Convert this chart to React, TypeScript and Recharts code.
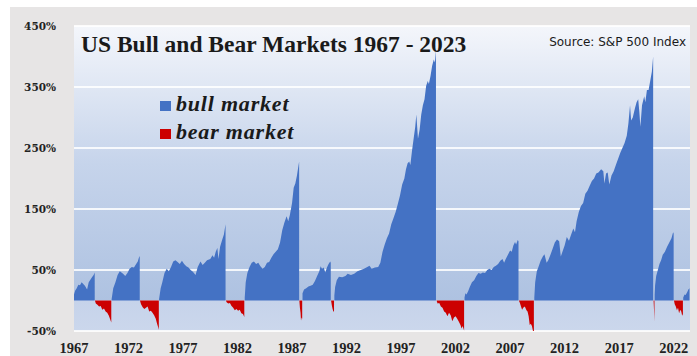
import { Area, AreaChart, CartesianGrid, XAxis, YAxis } from "recharts";

// cumulative % change of each bull run, [year, pct]
const bullRuns: [number, number][][] = [
  [[1967.0, 10], [1967.1, 16], [1967.25, 20], [1967.4, 26], [1967.55, 25], [1967.7, 30], [1967.85, 27], [1968.0, 24], [1968.2, 18], [1968.35, 30], [1968.5, 34], [1968.65, 38], [1968.8, 42], [1968.9, 46]],
  [[1970.45, 2], [1970.6, 20], [1970.8, 30], [1971.0, 42], [1971.2, 48], [1971.35, 46], [1971.5, 44], [1971.7, 40], [1971.9, 45], [1972.1, 52], [1972.3, 55], [1972.5, 54], [1972.7, 60], [1972.85, 64], [1972.95, 70], [1973.03, 73]],
  [[1974.8, 2], [1974.95, 20], [1975.1, 30], [1975.3, 45], [1975.5, 52], [1975.7, 48], [1975.9, 55], [1976.1, 64], [1976.3, 66], [1976.5, 63], [1976.7, 60], [1976.9, 65], [1977.1, 60], [1977.3, 56], [1977.5, 54], [1977.7, 50], [1977.9, 47], [1978.15, 42], [1978.35, 55], [1978.6, 64], [1978.8, 58], [1979.0, 62], [1979.2, 66], [1979.5, 68], [1979.7, 74], [1979.85, 70], [1980.0, 80], [1980.15, 86], [1980.25, 68], [1980.4, 88], [1980.6, 100], [1980.75, 108], [1980.9, 125]],
  [[1982.66, 5], [1982.75, 30], [1982.9, 45], [1983.1, 55], [1983.3, 62], [1983.5, 64], [1983.7, 60], [1983.9, 62], [1984.1, 56], [1984.3, 52], [1984.5, 55], [1984.7, 62], [1984.9, 63], [1985.1, 70], [1985.3, 76], [1985.5, 80], [1985.7, 84], [1985.9, 95], [1986.1, 115], [1986.3, 128], [1986.5, 138], [1986.65, 130], [1986.8, 140], [1987.0, 160], [1987.15, 185], [1987.3, 192], [1987.45, 205], [1987.58, 220], [1987.65, 228]],
  [[1987.96, 12], [1988.1, 18], [1988.3, 20], [1988.5, 23], [1988.7, 24], [1988.9, 26], [1989.1, 32], [1989.3, 40], [1989.5, 48], [1989.62, 56], [1989.75, 52], [1989.9, 54], [1990.05, 46], [1990.2, 54], [1990.35, 60], [1990.5, 64], [1990.55, 62]],
  [[1990.88, 8], [1990.95, 22], [1991.1, 33], [1991.3, 39], [1991.6, 38], [1991.9, 40], [1992.1, 44], [1992.4, 42], [1992.7, 44], [1993.0, 48], [1993.3, 50], [1993.6, 52], [1993.9, 55], [1994.1, 57], [1994.3, 52], [1994.6, 54], [1994.9, 55], [1995.1, 62], [1995.3, 80], [1995.5, 92], [1995.7, 102], [1995.9, 110], [1996.1, 125], [1996.3, 135], [1996.5, 145], [1996.7, 158], [1996.9, 172], [1997.1, 190], [1997.3, 200], [1997.45, 215], [1997.6, 225], [1997.75, 228], [1997.85, 222], [1998.0, 245], [1998.15, 265], [1998.3, 285], [1998.4, 305], [1998.55, 265], [1998.7, 280], [1998.85, 305], [1999.0, 320], [1999.15, 330], [1999.3, 352], [1999.45, 360], [1999.55, 355], [1999.7, 368], [1999.85, 385], [2000.0, 395], [2000.1, 390], [2000.2, 410]],
  [[2002.82, 5], [2002.9, 12], [2003.0, 10], [2003.15, 15], [2003.3, 22], [2003.5, 30], [2003.7, 33], [2003.9, 40], [2004.1, 45], [2004.3, 44], [2004.5, 46], [2004.7, 45], [2004.9, 50], [2005.1, 52], [2005.3, 50], [2005.5, 55], [2005.7, 57], [2005.9, 60], [2006.1, 65], [2006.3, 68], [2006.45, 62], [2006.6, 68], [2006.8, 75], [2007.0, 82], [2007.15, 80], [2007.3, 90], [2007.45, 96], [2007.55, 92], [2007.7, 99], [2007.77, 97]],
  [[2009.22, 5], [2009.3, 30], [2009.45, 48], [2009.6, 55], [2009.8, 65], [2010.0, 72], [2010.15, 76], [2010.35, 62], [2010.5, 66], [2010.7, 75], [2010.9, 85], [2011.1, 95], [2011.3, 100], [2011.5, 97], [2011.65, 72], [2011.8, 80], [2012.0, 90], [2012.2, 104], [2012.4, 98], [2012.6, 108], [2012.8, 118], [2012.95, 112], [2013.1, 130], [2013.3, 145], [2013.5, 155], [2013.7, 160], [2013.9, 175], [2014.1, 180], [2014.3, 188], [2014.5, 196], [2014.7, 200], [2014.9, 208], [2015.1, 210], [2015.35, 215], [2015.55, 212], [2015.65, 192], [2015.8, 208], [2015.95, 210], [2016.1, 190], [2016.3, 205], [2016.5, 212], [2016.7, 222], [2016.9, 232], [2017.1, 242], [2017.3, 250], [2017.5, 258], [2017.7, 270], [2017.85, 290], [2018.0, 320], [2018.1, 295], [2018.25, 300], [2018.45, 315], [2018.6, 325], [2018.75, 330], [2018.85, 310], [2018.95, 285], [2019.1, 320], [2019.3, 335], [2019.4, 325], [2019.55, 345], [2019.7, 345], [2019.85, 360], [2020.0, 375], [2020.12, 400]],
  [[2020.26, 10], [2020.3, 25], [2020.4, 40], [2020.55, 50], [2020.7, 60], [2020.85, 66], [2021.0, 75], [2021.2, 80], [2021.4, 88], [2021.6, 95], [2021.8, 102], [2021.95, 112], [2022.0, 110]],
  [[2022.88, 5], [2023.0, 10], [2023.1, 9], [2023.25, 14], [2023.35, 18], [2023.45, 20]],
];

const bearRuns: [number, number][][] = [
  [[1968.92, 0], [1969.0, -5], [1969.15, -7], [1969.3, -10], [1969.45, -9], [1969.6, -15], [1969.75, -13], [1969.9, -18], [1970.05, -20], [1970.2, -25], [1970.3, -30], [1970.42, -36]],
  [[1973.05, 0], [1973.15, -6], [1973.3, -11], [1973.45, -14], [1973.6, -12], [1973.75, -10], [1973.9, -18], [1974.05, -17], [1974.2, -20], [1974.35, -24], [1974.5, -30], [1974.62, -38], [1974.72, -44], [1974.78, -48]],
  [[1980.93, 0], [1981.0, -3], [1981.15, -5], [1981.3, -4], [1981.45, -9], [1981.6, -12], [1981.75, -16], [1981.9, -14], [1982.05, -17], [1982.2, -15], [1982.35, -21], [1982.5, -22], [1982.62, -27]],
  [[1987.67, 0], [1987.72, -12], [1987.78, -20], [1987.82, -33], [1987.88, -28], [1987.93, -30]],
  [[1990.58, 0], [1990.65, -8], [1990.72, -14], [1990.8, -19], [1990.85, -17]],
  [[2000.25, 0], [2000.35, -5], [2000.5, -4], [2000.65, -10], [2000.8, -12], [2000.95, -18], [2001.1, -20], [2001.25, -26], [2001.4, -20], [2001.55, -24], [2001.7, -34], [2001.85, -28], [2002.0, -26], [2002.15, -30], [2002.3, -35], [2002.45, -40], [2002.55, -46], [2002.65, -42], [2002.78, -49]],
  [[2007.8, 0], [2007.9, -4], [2008.0, -10], [2008.1, -15], [2008.2, -12], [2008.35, -10], [2008.5, -16], [2008.6, -18], [2008.7, -26], [2008.8, -40], [2008.9, -38], [2009.0, -42], [2009.1, -50], [2009.18, -53]],
  [[2020.16, 0], [2020.19, -12], [2020.22, -25], [2020.24, -34]],
  [[2022.03, 0], [2022.1, -6], [2022.2, -10], [2022.3, -16], [2022.4, -12], [2022.5, -21], [2022.6, -15], [2022.7, -18], [2022.78, -25], [2022.85, -22]],
];

const yearTicks = [1967, 1972, 1977, 1982, 1987, 1992, 1997, 2002, 2007, 2012, 2017, 2022];
const pctTicks = [-50, 50, 150, 250, 350, 450];

type Row = { year: number; bull: number | null; bear: number | null };

const rows: Row[] = [
  ...bullRuns.flat().map(([year, v]) => ({ year, bull: v, bear: null })),
  ...bearRuns.flat().map(([year, v]) => ({ year, bull: null, bear: v })),
].sort((a, b) => a.year - b.year);

const BLUE = "#4472c4";
const RED = "#cc0000";

export default function App() {
  return (
    <div style={{ position: "absolute", left: 0, top: 0, width: 697, height: 356, background: "#fff" }}>
      <div style={{ position: "absolute", left: 10, top: 7, right: 0, bottom: 0, background: "#e7e5e5" }} />
      <div style={{ position: "absolute", left: 0, top: 0 }}>
        <AreaChart width={697} height={356} data={rows} margin={{ top: 26, right: 7, bottom: 0, left: 14 }}>
          <defs>
            <linearGradient id="plotBg" x1="0" y1="0" x2="0" y2="1">
              <stop offset="0" stopColor="#f4f6fb" />
              <stop offset="0.45" stopColor="#c6d4eb" />
              <stop offset="0.9" stopColor="#aec2e1" />
              <stop offset="0.9" stopColor="#c6d3ea" />
              <stop offset="1" stopColor="#cbd7ec" />
            </linearGradient>
          </defs>
          <CartesianGrid vertical={false} stroke="#ffffff" strokeWidth={2} strokeOpacity={0.85} fill="url(#plotBg)" fillOpacity={1} />
          <XAxis
            dataKey="year"
            type="number"
            domain={[1967, 2023.5]}
            ticks={yearTicks}
            interval={0}
            allowDataOverflow
            axisLine={false}
            tickLine={false}
            tickMargin={6}
            height={25}
            tick={{ fontFamily: "Liberation Serif", fontWeight: 700, fontSize: 14.5, fill: "#222" }}
          />
          <YAxis
            type="number"
            domain={[-50, 450]}
            ticks={pctTicks}
            interval={0}
            allowDataOverflow
            axisLine={false}
            tickLine={false}
            tickMargin={12}
            width={60}
            tickFormatter={(v: number) => `${v}%`}
            tick={{ fontFamily: "DejaVu Serif", fontWeight: 700, fontSize: 10.5, fill: "#222" }}
          />
          <Area
            dataKey="bull"
            type="linear"
            baseValue={0}
            stroke="none"
            fill={BLUE}
            fillOpacity={1}
            isAnimationActive={false}
            dot={false}
            activeDot={false}
          />
          <Area
            dataKey="bear"
            type="linear"
            baseValue={0}
            stroke="none"
            fill={RED}
            fillOpacity={1}
            isAnimationActive={false}
            dot={false}
            activeDot={false}
          />
        </AreaChart>
      </div>
      <div
        style={{
          position: "absolute",
          left: 81,
          top: 33,
          fontFamily: "Liberation Serif",
          fontWeight: 700,
          fontSize: 23.5,
          lineHeight: "23.5px",
          color: "#1a1a1a",
          whiteSpace: "nowrap",
        }}
      >
        US Bull and Bear Markets 1967 - 2023
      </div>
      <div
        style={{
          position: "absolute",
          right: 11,
          top: 36,
          fontFamily: "DejaVu Sans",
          fontSize: 12,
          lineHeight: "12px",
          color: "#1a1a1a",
          whiteSpace: "nowrap",
        }}
      >
        Source: S&amp;P 500 Index
      </div>
      {[
        { label: "bull market", color: BLUE, top: 92 },
        { label: "bear market", color: RED, top: 120 },
      ].map((item) => (
        <div
          key={item.label}
          style={{
            position: "absolute",
            left: 160,
            top: item.top,
            display: "flex",
            alignItems: "center",
            whiteSpace: "nowrap",
          }}
        >
          <span style={{ width: 11, height: 10, background: item.color, marginRight: 5, marginTop: 4 }} />
          <span
            style={{
              fontFamily: "Liberation Serif",
              fontWeight: 700,
              fontStyle: "italic",
              fontSize: 22,
              letterSpacing: 0.8,
              lineHeight: "24px",
              color: "#1a1a1a",
            }}
          >
            {item.label}
          </span>
        </div>
      ))}
    </div>
  );
}
